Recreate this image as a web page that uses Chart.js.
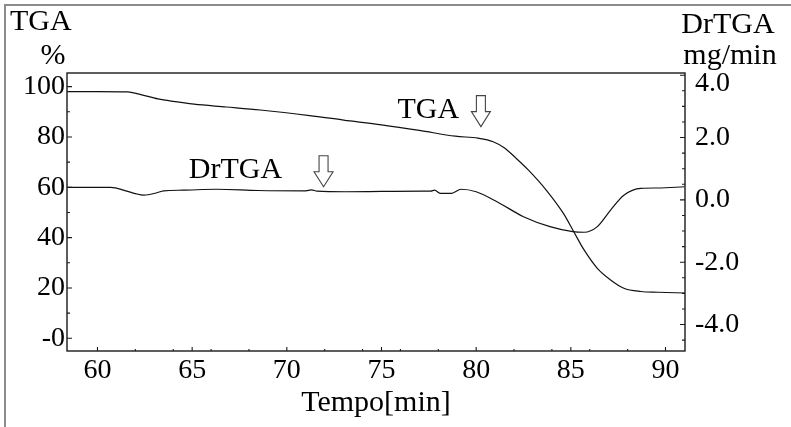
<!DOCTYPE html>
<html>
<head>
<meta charset="utf-8">
<script src="https://cdn.jsdelivr.net/npm/chart.js@4/dist/chart.umd.min.js"></script>
<style>
  html, body { margin: 0; padding: 0; background: #fff; }
  #wrap { width: 791px; height: 427px; }
</style>
</head>
<body>
<div id="wrap"><canvas id="tgaChart" width="791" height="427"></canvas></div>
<script>
// TGA curve (%), left axis
const tgaTime   = [58.4, 60.0, 61.6, 62.2, 63.2, 64.0, 65.1, 66.8, 68.6, 71.2, 73.0, 75.0, 77.0, 78.9, 80.1, 80.9, 81.5, 82.1, 82.75, 83.7, 84.6, 85.15, 85.7, 86.4, 87.1, 87.8, 88.7, 89.6, 91.0];
const tgaValues = [98.0, 98.0, 97.9, 97.0, 95.1, 94.1, 93.0, 91.9, 90.7, 88.5, 86.7, 84.8, 82.6, 80.3, 79.5, 78.1, 75.6, 71.6, 66.9, 58.9, 49.7, 42.4, 35.1, 27.8, 23.2, 19.9, 18.6, 18.3, 18.0];

// DrTGA curve (mg/min), right axis
const drTime   = [58.4, 60.7, 61.5, 62.0, 62.45, 63.1, 63.5, 64.5, 66.3, 68.5, 71.0, 71.3, 71.6, 73.1, 75.0, 77.2, 77.6, 77.8, 78.1, 78.7, 79.2, 80.0, 81.1, 82.5, 83.9, 85.1, 85.7, 86.4, 87.1, 87.8, 88.7, 89.6, 91.0];
const drValues = [0.40, 0.40, 0.29, 0.20, 0.15, 0.22, 0.29, 0.31, 0.34, 0.30, 0.29, 0.32, 0.28, 0.26, 0.27, 0.28, 0.28, 0.31, 0.21, 0.21, 0.34, 0.26, -0.06, -0.54, -0.86, -1.02, -1.04, -0.86, -0.33, 0.15, 0.37, 0.38, 0.42];

// tick labels
const timeTicks  = [60, 65, 70, 75, 80, 85, 90];
const tgaTicks   = [0, 20, 40, 60, 80, 100];
const drTicks    = [-4, -2, 0, 2, 4];

const SERIF = '"Liberation Serif", "Times New Roman", serif';

function setTicks(list) {
  return scale => { scale.ticks = list.map(v => ({ value: v })); };
}

function downArrow(ctx, x, tipY) {
  const h = 31, head = 15, hw = 9.5, sw = 4.5;
  ctx.beginPath();
  ctx.moveTo(x - sw, tipY - h);
  ctx.lineTo(x + sw, tipY - h);
  ctx.lineTo(x + sw, tipY - head);
  ctx.lineTo(x + hw, tipY - head);
  ctx.lineTo(x, tipY);
  ctx.lineTo(x - hw, tipY - head);
  ctx.lineTo(x - sw, tipY - head);
  ctx.closePath();
  ctx.fillStyle = '#fff';
  ctx.fill();
  ctx.strokeStyle = '#444';
  ctx.lineWidth = 1.1;
  ctx.stroke();
}

const extras = {
  id: 'extras',
  beforeDraw(chart) {
    const ctx = chart.ctx;
    ctx.save();
    ctx.strokeStyle = '#8c8c8c';
    ctx.lineWidth = 2;
    ctx.beginPath();
    ctx.moveTo(5, 427); ctx.lineTo(5, 5); ctx.lineTo(791, 5);
    ctx.stroke();
    ctx.restore();
  },
  afterDraw(chart) {
    const { ctx, chartArea: a, scales } = chart;
    const { x, y, y1 } = scales;
    ctx.save();

    // plot frame
    ctx.strokeStyle = '#1a1a1a';
    ctx.lineWidth = 1.4;
    ctx.strokeRect(a.left, a.top, a.right - a.left, a.bottom - a.top);

    // inward ticks
    ctx.lineWidth = 1.1;
    ctx.beginPath();
    for (let t = 60; t <= 90; t++) {
      const major = t % 5 === 0;
      if (!major && t % 2 !== 0) continue;
      const px = x.getPixelForValue(t);
      ctx.moveTo(px, a.bottom); ctx.lineTo(px, a.bottom - (major ? 4 : 2));
    }
    for (let v = 0; v <= 100; v += 10) {
      const py = y.getPixelForValue(v);
      ctx.moveTo(a.left, py); ctx.lineTo(a.left + (v % 20 === 0 ? 5 : 3), py);
    }
    for (let k = -9; k <= 8; k++) {
      const v = k / 2;
      const py = y1.getPixelForValue(v);
      ctx.moveTo(a.right, py); ctx.lineTo(a.right - (k % 4 === 0 ? 5 : 3), py);
    }
    ctx.stroke();

    ctx.fillStyle = '#000';

    // right axis labels (top one pushed down inside the frame like the original)
    ctx.font = '28px ' + SERIF;
    ctx.textAlign = 'left';
    ctx.textBaseline = 'middle';
    drTicks.forEach(v => {
      const py = Math.max(y1.getPixelForValue(v), a.top + 11);
      ctx.fillText(v.toFixed(1), a.right + 10, py);
    });

    // axis headers
    ctx.font = '30px ' + SERIF;
    ctx.textBaseline = 'alphabetic';
    ctx.textAlign = 'left';
    ctx.fillText('TGA', 10, 30);
    ctx.textAlign = 'center';
    ctx.fillText('%', 53, 64);
    ctx.fillText('DrTGA', 728, 33);
    ctx.fillText('mg/min', 730, 64);

    // curve labels
    ctx.textAlign = 'left';
    ctx.fillText('TGA', x.getPixelForValue(75.84), y.getPixelForValue(87.6));
    ctx.fillText('DrTGA', x.getPixelForValue(64.82), y1.getPixelForValue(0.70));
    downArrow(ctx, x.getPixelForValue(80.25), y.getPixelForValue(84.1));
    downArrow(ctx, x.getPixelForValue(71.94), y1.getPixelForValue(0.42));

    ctx.restore();
  }
};

const tickFont = { family: SERIF, size: 28 };

new Chart(document.getElementById('tgaChart'), {
  type: 'line',
  data: {
    datasets: [
      {
        label: 'TGA',
        data: tgaTime.map((t, i) => ({ x: t, y: tgaValues[i] })),
        yAxisID: 'y',
        borderColor: '#111',
        borderWidth: 1.2,
        pointRadius: 0,
        cubicInterpolationMode: 'monotone',
      },
      {
        label: 'DrTGA',
        data: drTime.map((t, i) => ({ x: t, y: drValues[i] })),
        yAxisID: 'y1',
        borderColor: '#111',
        borderWidth: 1.2,
        pointRadius: 0,
        cubicInterpolationMode: 'monotone',
      },
    ],
  },
  options: {
    responsive: false,
    animation: false,
    devicePixelRatio: 1,
    layout: { padding: { top: 73, left: 0, right: 0, bottom: 0 } },
    plugins: { legend: { display: false }, tooltip: { enabled: false } },
    scales: {
      x: {
        type: 'linear',
        position: 'bottom',
        min: 58.39,
        max: 91.03,
        afterBuildTicks: setTicks(timeTicks),
        afterFit: s => { s.height = 76; },
        grid: { display: false, drawTicks: false },
        border: { display: false },
        ticks: { color: '#000', font: tickFont, padding: 3, maxRotation: 0, callback: v => String(v) },
        title: { display: true, text: 'Tempo[min]', color: '#000', font: { family: SERIF, size: 30 }, padding: { top: 0, bottom: 6 } },
      },
      y: {
        type: 'linear',
        position: 'left',
        min: -5.05,
        max: 105.4,
        afterBuildTicks: setTicks(tgaTicks),
        afterFit: s => { s.width = 67; },
        grid: { display: false, drawTicks: false },
        border: { display: false },
        ticks: { color: '#000', font: tickFont, padding: 2, callback: v => (v === 0 ? '-0' : String(v)) },
      },
      y1: {
        type: 'linear',
        position: 'right',
        min: -4.85,
        max: 4.07,
        afterBuildTicks: setTicks(drTicks),
        afterFit: s => { s.width = 106; },
        grid: { display: false, drawTicks: false },
        border: { display: false },
        ticks: { display: false },
      },
    },
  },
  plugins: [extras],
});
</script>
</body>
</html>
